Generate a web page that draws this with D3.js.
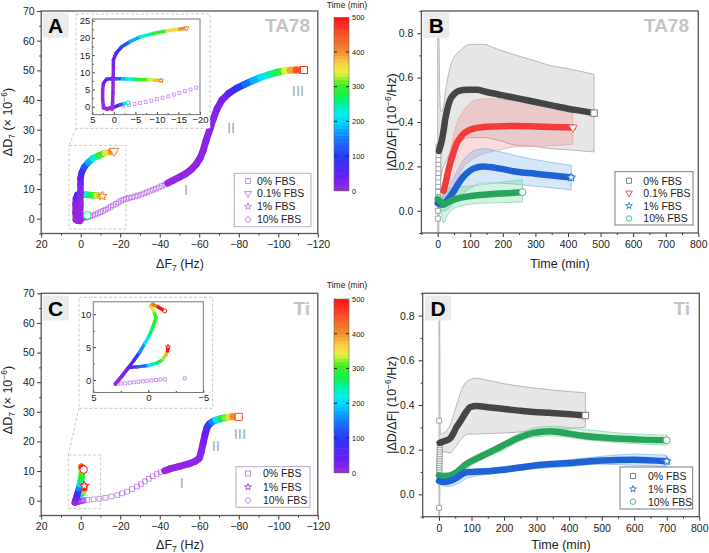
<!DOCTYPE html>
<html><head><meta charset="utf-8">
<script src="https://cdn.jsdelivr.net/npm/d3@7/dist/d3.min.js"></script>
<style>body{margin:0;background:#fff}svg{display:block}</style>
</head><body>
<script>
// ---------------- DATA ----------------
// colour map (Time, min)
const timeStops  = [0, 40, 100, 150, 190, 220, 250, 280, 310, 340, 370, 400, 440, 480, 500];
const timeColors = ["#9a28e0","#6a1cf5","#2838f8","#1478ff","#00c8ff","#00f0f0","#00f0a0","#18f040","#40f020","#e8f040","#f8d040","#f09030","#f86028","#ff2a20","#ff1010"];
const colorbarTicks = [0, 100, 200, 300, 400, 500];

// Panel A (TA78): [dF7 (Hz), dD7 (1e-6), time (min)]
const ta78_0_early = [[-2.2,0.3,0.2],[-3.5,0.5,0.3],[-4.8,0.8,0.4],[-6.1,1.1,0.5],[-7.4,1.4,0.6],[-8.7,1.8,0.7],[-10,2.2,0.8],[-11.3,2.6,0.9],[-12.6,3.0,1.0],[-13.9,3.5,1.1],[-15.2,4.0,1.2],[-16.5,4.5,1.3],[-17.8,5.0,1.4],[-19.1,5.5,1.5],[-20.4,6.0,1.6],[-21.7,6.4,1.7],[-23,6.7,1.8],[-24.5,7.0,1.9],[-26,7.2,2.0],[-27.5,7.5,2.1],[-29,7.8,2.2],[-30.5,8.1,2.3],[-32,8.5,2.4],[-33.5,8.9,2.5],[-35,9.3,2.6],[-36.5,9.7,2.7],[-38,10.1,2.8],[-39.5,10.5,2.9],[-41,11.0,3.0],[-42.5,11.5,3.1]];
const ta78_0 = [[-44,12.0,3.2],[-47,13.0,4],[-50,14.0,5],[-53,15.1,6],[-56,16.6,7],[-58.5,18.4,8],[-60.5,20.5,9],[-62,23,10],[-63.5,26.5,12],[-65.3,30,14],[-67,33.5,16],[-69,37,19],[-71.5,40,24],[-75,42.3,35],[-79,44,80],[-83,45.3,125],[-87,46.5,160],[-91,47.6,195],[-95,48.5,225],[-99,49.3,270],[-103,49.8,320],[-106,50,360],[-109,50.1,420],[-113,50.1,480]];
const ta78_01 = [[0.4,-0.8,0],[0.3,1,2],[0.2,4,5],[0.15,8.7,10],[0.1,11.5,18],[0.1,13.6,30],[-0.5,15.5,60],[-1.8,17.4,100],[-3.75,18.9,150],[-6.1,20.3,200],[-9.2,21.3,270],[-12.3,22.1,330],[-15.3,22.6,390],[-16.9,22.8,415]];
const ta78_1 = [[0.8,-0.3,0],[1.6,-0.6,1],[2.4,-0.3,2],[2.6,2,4],[2.6,5,8],[2.4,6.8,15],[1.7,8,50],[0.5,8.1,90],[-0.6,8.1,120],[-2,8.1,170],[-3,8.05,200],[-4.5,8.0,250],[-6,7.9,290],[-8,7.8,320],[-9.5,7.7,350],[-11,7.6,410]];
const ta78_10 = [[2.4,-0.3,0],[1.5,-0.7,5],[0.5,-0.4,15],[-0.5,0.1,40],[-1.5,0.6,100],[-2.5,0.9,180],[-3.35,1.16,260]];

// Panel C (Ti)
const ti_0_early = [[2.9,-0.6,0],[2.5,-0.55,0.1],[2.1,-0.5,0.2],[1.7,-0.42,0.3],[1.3,-0.35,0.4],[0.9,-0.28,0.5],[0.5,-0.2,0.6],[0.1,-0.13,0.7],[-0.3,-0.06,0.8],[-0.7,0.0,0.9],[-1.1,0.05,1.0],[-1.5,0.1,1.1],[-3.3,0.26,1.3],[-6.5,0.45,1.5],[-9.5,0.65,1.7],[-12.5,0.95,1.9],[-15.5,1.4,2.1],[-18.5,1.9,2.3],[-21,2.5,2.5],[-23.5,3.1,2.7],[-26,3.9,2.9],[-28.5,4.8,3.1],[-30.5,5.6,3.3],[-32.5,6.5,3.5],[-34.5,7.4,3.7],[-36.5,8.3,3.9],[-38.5,9.0,4.1],[-40.5,9.6,4.3]];
const ti_0 = [[-42.5,10.1,4.5],[-45,10.7,5],[-50,11.6,6],[-55,12.5,8],[-58,13.3,10],[-60,14.3,12],[-61,16.5,15],[-62,19.5,20],[-63,22.5,30],[-64,24.8,50],[-65,25.8,90],[-66.5,26.6,130],[-68.5,27.2,180],[-71,27.7,250],[-73,28,300],[-75,28.2,340],[-77,28.3,390],[-79,28.3,420],[-80,28.3,450]];
const ti_1 = [[3.0,-0.6,0],[2.4,0.6,10],[1.8,1.9,40],[1,2.0,100],[0,2.2,170],[-0.8,2.6,250],[-1.3,3.1,300],[-1.6,3.8,350],[-1.75,4.4,420],[-1.8,5,700]];
const ti_10 = [[3.0,-0.6,0],[2.4,0.6,10],[1.8,1.9,30],[1.3,3,80],[0.8,4.2,130],[0.3,5.6,190],[-0.1,6.8,240],[-0.4,8,280],[-0.7,9.5,300],[-0.5,10.5,320],[-0.2,11.3,350],[-0.4,11.5,400],[-0.9,11.1,450],[-1.5,10.5,700]];

// Panel B (TA78): |dD/dF| vs time
const b0_early = [[0.5,-0.035],[0.5,0.0],[1,0.035],[1,0.06],[1,0.085],[1.5,0.11],[1.5,0.13],[1.5,0.15],[2,0.17],[2,0.19],[2,0.21],[2.5,0.23],[2.5,0.25],[3,0.27],[3,0.29]];
const b0_mean = [[4,0.27],[8,0.29],[13,0.32],[18,0.36],[23,0.41],[30,0.46],[38,0.5],[50,0.525],[65,0.54],[90,0.545],[120,0.545],[150,0.535],[200,0.52],[250,0.505],[300,0.49],[350,0.475],[400,0.46],[450,0.448],[480,0.44]];
const b0_band = [[0,-0.1,0.87],[3,-0.1,0.86],[6,0.1,0.55],[9,0.14,0.45],[14,0.18,0.45],[25,0.22,0.55],[38,0.26,0.645],[50,0.28,0.69],[68,0.31,0.72],[100,0.33,0.75],[140,0.33,0.75],[180,0.32,0.73],[242,0.295,0.70],[300,0.29,0.675],[344,0.28,0.655],[400,0.275,0.64],[480,0.265,0.615]];
const b01_mean = [[18,0.09],[25,0.13],[30,0.165],[38,0.213],[48,0.26],[58,0.303],[70,0.33],[80,0.348],[95,0.362],[110,0.37],[140,0.377],[180,0.38],[240,0.382],[300,0.38],[350,0.378],[415,0.375]];
const b01_band = [[15,0.05,0.1],[25,0.05,0.16],[40,0.09,0.28],[58,0.14,0.39],[80,0.2,0.45],[100,0.225,0.485],[120,0.245,0.5],[160,0.265,0.505],[200,0.278,0.502],[240,0.288,0.498],[300,0.29,0.485],[340,0.292,0.475],[415,0.3,0.455]];
const b1_mean = [[0,0.035],[10,0.028],[18,0.03],[28,0.045],[38,0.064],[48,0.085],[58,0.109],[68,0.132],[79,0.154],[94,0.175],[109,0.19],[140,0.2],[191,0.19],[242,0.176],[300,0.167],[344,0.16],[410,0.15]];
const b1_band = [[0,0.01,0.06],[20,0.0,0.07],[40,0.02,0.12],[60,0.05,0.18],[80,0.08,0.23],[110,0.11,0.27],[140,0.125,0.28],[180,0.125,0.27],[250,0.118,0.245],[340,0.105,0.22],[410,0.095,0.205]];
const b10_mean = [[0,0.052],[8,0.042],[18,0.027],[28,0.035],[40,0.045],[60,0.055],[89,0.064],[130,0.071],[170,0.076],[210,0.079],[260,0.084]];
const b10_band = [[0,0.03,0.09],[10,0.0,0.1],[18,-0.055,0.1],[30,-0.02,0.103],[50,0.01,0.105],[100,0.03,0.112],[150,0.035,0.12],[200,0.037,0.13],[260,0.04,0.14]];

// Panel D (Ti)
const d0_early = [[0.5,-0.06],[0.5,0.33],[1,0.1],[1,0.11],[1,0.12],[1.5,0.13],[1.5,0.14],[1.5,0.15],[2,0.16],[2,0.17],[2,0.18],[2.5,0.19],[2.5,0.2],[2.5,0.21],[3,0.22]];
const d0_mean = [[2,0.23],[10,0.235],[20,0.24],[34,0.25],[45,0.275],[54,0.302],[65,0.325],[75,0.35],[85,0.372],[95,0.39],[116,0.395],[150,0.39],[188,0.384],[240,0.376],[290,0.369],[340,0.365],[393,0.36],[450,0.353]];
const d0_band = [[0,-0.1,0.8],[2,-0.1,0.8],[4,0.19,0.27],[20,0.19,0.28],[34,0.185,0.31],[50,0.21,0.38],[70,0.25,0.47],[90,0.27,0.51],[116,0.27,0.52],[150,0.272,0.51],[200,0.275,0.495],[300,0.285,0.475],[400,0.295,0.46],[450,0.3,0.455]];
const d1_mean = [[0,0.06],[15,0.055],[30,0.058],[50,0.07],[70,0.09],[90,0.1],[120,0.102],[160,0.105],[200,0.11],[250,0.12],[300,0.13],[400,0.14],[500,0.152],[600,0.155],[700,0.148]];
const d1_band = [[0,0.045,0.075],[30,0.035,0.07],[60,0.05,0.09],[90,0.075,0.11],[150,0.09,0.115],[200,0.1,0.125],[300,0.115,0.14],[400,0.125,0.155],[500,0.135,0.17],[600,0.13,0.18],[700,0.125,0.175]];
const d10_mean = [[0,0.085],[15,0.08],[30,0.082],[50,0.095],[85,0.137],[130,0.17],[188,0.212],[240,0.25],[290,0.275],[341,0.283],[400,0.272],[443,0.262],[546,0.25],[620,0.245],[700,0.242]];
const d10_band = [[0,0.07,0.1],[30,0.068,0.097],[60,0.085,0.12],[100,0.13,0.165],[150,0.168,0.2],[200,0.2,0.235],[250,0.24,0.275],[300,0.258,0.3],[350,0.262,0.305],[450,0.245,0.29],[550,0.232,0.275],[700,0.22,0.265]];

const legendA = ["0% FBS","0.1% FBS","1% FBS","10% FBS"];
const legendC = ["0% FBS","1% FBS","10% FBS"];

// ---------------- DRAWING ----------------
const FONT = '"Liberation Sans", Arial, Helvetica, sans-serif';
const svg = d3.select("body").append("svg").attr("width",709).attr("height",553).style("font-family",FONT);
const cmap = d3.scaleLinear().domain(timeStops).range(timeColors).interpolate(d3.interpolateRgb).clamp(true);
const defs = svg.append("defs");
let clipN = 0;
function clip(x, y){
  const id = "clip"+(clipN++);
  const [x0,x1]=x.range(), [y0,y1]=y.range();
  defs.append("clipPath").attr("id",id).append("rect")
    .attr("x",Math.min(x0,x1)).attr("y",Math.min(y0,y1)).attr("width",Math.abs(x1-x0)).attr("height",Math.abs(y1-y0));
  return "url(#"+id+")";
}
function clean(g, fs){
  g.select(".domain").remove();
  g.attr("font-family",null).attr("font-size",null);
  g.selectAll("line").attr("stroke","#333");
  g.selectAll("text").attr("fill","#222").attr("font-family",FONT).attr("font-size",fs);
}
function axes(x, y, o){
  const yb = y.range()[0], xl = x.range()[0];
  const gx1 = svg.append("g").attr("transform",`translate(0,${yb})`);
  gx1.call(d3.axisBottom(x).tickValues(o.xMinor).tickSize(o.minor).tickFormat("")); clean(gx1,o.fs);
  const gx2 = svg.append("g").attr("transform",`translate(0,${yb})`);
  gx2.call(d3.axisBottom(x).tickValues(o.xMajor).tickSize(o.major).tickPadding(o.xPad).tickFormat(o.xFmt)); clean(gx2,o.fs);
  const gy1 = svg.append("g").attr("transform",`translate(${xl},0)`);
  gy1.call(d3.axisLeft(y).tickValues(o.yMinor).tickSize(o.minor).tickFormat("")); clean(gy1,o.fs);
  const gy2 = svg.append("g").attr("transform",`translate(${xl},0)`);
  gy2.call(d3.axisLeft(y).tickValues(o.yMajor).tickSize(o.major).tickPadding(o.yPad).tickFormat(o.yFmt)); clean(gy2,o.fs);
  const [x0,x1]=x.range(), [y0,y1]=y.range();
  svg.append("rect").attr("x",x0).attr("y",y1).attr("width",x1-x0).attr("height",y0-y1)
    .attr("fill","none").attr("stroke",o.frame||"#555").attr("stroke-width",o.fw||1.3);
}
function trail(g, x, y, pts, w){
  g.append("g").selectAll("line").data(d3.pairs(pts)).join("line")
    .attr("x1",d=>x(d[0][0])).attr("y1",d=>y(d[0][1])).attr("x2",d=>x(d[1][0])).attr("y2",d=>y(d[1][1]))
    .attr("stroke",d=>cmap((d[0][2]+d[1][2])/2)).attr("stroke-width",w).attr("stroke-linecap","round");
}
const SYM = {sq:d3.symbolSquare, tri:d3.symbolTriangle, star:d3.symbolStar, circ:d3.symbolCircle};
const SCALE = {sq:1, tri:0.75, star:0.55, circ:0.9};
function sym(g, type, cx, cy, size, stroke, fill, sw){
  g.append("path").attr("d",d3.symbol().type(SYM[type]).size(size*SCALE[type])())
    .attr("transform",`translate(${cx},${cy})`+(type==="tri"?" rotate(180)":""))
    .attr("fill",fill||"none").attr("stroke",stroke).attr("stroke-width",sw||1);
}
function endMark(g, x, y, pts, type, size){
  const p = pts[pts.length-1];
  sym(g, type, x(p[0]), y(p[1]), size, cmap(p[2]), "#fff", 1);
}
function label(g, x, y, t){
  g.append("rect").attr("x",x).attr("y",y).attr("width",26).attr("height",25).attr("fill","#ebebeb");
  g.append("text").attr("x",x+13).attr("y",y+20).attr("text-anchor","middle").attr("font-weight","bold")
    .attr("font-size",21).attr("fill","#000").text(t);
}
function tag(g, x, y, t){
  g.append("text").attr("x",x).attr("y",y).attr("text-anchor","end").attr("font-weight","bold")
    .attr("font-size",19).attr("fill","#c4c4c4").text(t);
}
function xTitleF(x, y){
  const t = svg.append("text").attr("x",x).attr("y",y).attr("text-anchor","middle").attr("font-size",12.5).attr("fill","#222");
  t.append("tspan").text("ΔF");
  t.append("tspan").attr("dy",3).attr("font-size",8.5).text("7");
  t.append("tspan").attr("dy",-3).text(" (Hz)");
}
function yTitleD(x, y){
  const t = svg.append("text").attr("transform",`translate(${x},${y}) rotate(-90)`).attr("text-anchor","middle").attr("font-size",12.5).attr("fill","#222");
  t.append("tspan").text("ΔD");
  t.append("tspan").attr("dy",3).attr("font-size",8.5).text("7");
  t.append("tspan").attr("dy",-3).text(" (× 10");
  t.append("tspan").attr("dy",-5).attr("font-size",8.5).text("−6");
  t.append("tspan").attr("dy",5).text(")");
}
function yTitleR(x, y){
  const t = svg.append("text").attr("transform",`translate(${x},${y}) rotate(-90)`).attr("text-anchor","middle").attr("font-size",12.5).attr("fill","#222");
  t.append("tspan").text("|ΔD/ΔF| (10");
  t.append("tspan").attr("dy",-5).attr("font-size",8.5).text("−6");
  t.append("tspan").attr("dy",5).text("/Hz)");
}
function xTitleT(x, y){
  svg.append("text").attr("x",x).attr("y",y).attr("text-anchor","middle").attr("font-size",12.5).attr("fill","#222").text("Time (min)");
}
function colorbar(x0, yTop, yBot, titleY){
  const cy = d3.scaleLinear().domain([0,500]).range([yBot,yTop]);
  const g = svg.append("g");
  const bands = d3.range(0,500,10);
  g.selectAll("rect.b").data(bands).join("rect").attr("x",x0).attr("width",15)
    .attr("y",d=>cy(d+10)).attr("height",d=>cy(d)-cy(d+10)+0.5).attr("fill",d=>cmap(d+5));
  g.append("rect").attr("x",x0).attr("y",yTop).attr("width",15).attr("height",yBot-yTop).attr("fill","none").attr("stroke","#666").attr("stroke-width",0.6);
  const inner = colorbarTicks.filter(v=>v>0&&v<500);
  g.selectAll("line.l").data(inner).join("line").attr("x1",x0).attr("x2",x0+3).attr("y1",d=>cy(d)).attr("y2",d=>cy(d)).attr("stroke","#222").attr("stroke-width",1);
  g.selectAll("line.r").data(inner).join("line").attr("x1",x0+12).attr("x2",x0+15).attr("y1",d=>cy(d)).attr("y2",d=>cy(d)).attr("stroke","#222").attr("stroke-width",1);
  g.selectAll("text.t").data(colorbarTicks).join("text").attr("x",x0+18).attr("y",d=>cy(d)+2.8)
    .attr("font-size",7.5).attr("fill","#222").text(d=>d);
  g.append("text").attr("x",x0+13).attr("y",titleY).attr("text-anchor","middle").attr("font-size",8.5).attr("fill","#222").text("Time (min)");
}

// ---------- Panel A / C helpers ----------
function fPanel(o){
  const x = d3.scaleLinear().domain([20,-120]).range([41.2,317.8]);
  const y = d3.scaleLinear().domain([-5,70]).range([o.yb,o.yt]);
  const g = svg.append("g");
  g.append("rect").attr("x",x(o.box[0])).attr("y",y(o.box[1])).attr("width",x(o.box[2])-x(o.box[0])).attr("height",y(o.box[3])-y(o.box[1]))
    .attr("fill","none").attr("stroke","#c8c8c8").attr("stroke-dasharray","3,2");
  const dg = g.append("g").attr("clip-path",clip(x,y));
  o.sparse.forEach(p=> sym(dg,"sq",x(p[0]),y(p[1]),22,cmap(p[2]),"none",0.9));
  dg.selectAll("path").attr("stroke-opacity",0.55);
  trail(dg,x,y,o.dense,7);
  o.series.forEach(s=> trail(dg,x,y,s.pts,6.5));
  endMark(dg,x,y,o.dense,"sq",50);
  o.series.forEach(s=> endMark(dg,x,y,s.pts,s.type,50));
  o.roman.forEach(r=> g.append("text").attr("x",x(r[0])).attr("y",y(r[1])).attr("text-anchor","middle").attr("dominant-baseline","central")
     .attr("font-size",15).attr("fill","#a9a9bb").text(r[2]));
  axes(x,y,{xMajor:d3.range(20,-121,-20),xMinor:d3.range(10,-121,-20),yMajor:d3.range(0,71,10),yMinor:d3.range(-5,71,10),
            major:4,minor:2,xPad:3.5,yPad:2.5,fs:10.5,xFmt:d3.format("d"),yFmt:d3.format("d")});
  return {x,y,g};
}
function inset(o){
  const g = svg.append("g");
  g.append("rect").attr("x",o.outer[0]).attr("y",o.outer[1]).attr("width",o.outer[2]-o.outer[0]).attr("height",o.outer[3]-o.outer[1])
    .attr("fill","#fff").attr("stroke","#c8c8c8").attr("stroke-dasharray","3,2");
  g.append("line").attr("x1",o.conn[0]).attr("y1",o.conn[1]).attr("x2",o.conn[2]).attr("y2",o.conn[3])
    .attr("stroke","#c8c8c8").attr("stroke-dasharray","3,2");
  const x = d3.scaleLinear().domain(o.xd).range(o.xr);
  const y = d3.scaleLinear().domain(o.yd).range(o.yr);
  const dg = svg.append("g").attr("clip-path",clip(x,y));
  o.sparse.forEach(p=> sym(dg,"sq",x(p[0]),y(p[1]),9,cmap(p[2]),"none",0.8));
  dg.selectAll("path").attr("stroke-opacity",0.6);
  o.series.forEach(s=> trail(dg,x,y,s.pts,3.5));
  o.series.forEach(s=> endMark(dg,x,y,s.pts,s.type,14));
  axes(x,y,{xMajor:o.xMajor,xMinor:o.xMinor,yMajor:o.yMajor,yMinor:o.yMinor,major:-2.5,minor:-1.5,xPad:2,yPad:2,fs:9.5,
            xFmt:d3.format("d"),yFmt:d3.format("d"),frame:"#777",fw:1});
}
function legendBox(x0,y0,x1,y1,items,rows,sx,tx,border){
  const g = svg.append("g");
  g.append("rect").attr("x",x0).attr("y",y0).attr("width",x1-x0).attr("height",y1-y0).attr("fill","#fff").attr("stroke",border).attr("stroke-width",0.9);
  items.forEach((it,i)=>{
    sym(g,it.type,sx,rows[i],26,it.color,it.fill||"none",1);
    g.append("text").attr("x",tx).attr("y",rows[i]+3.8).attr("font-size",10.5).attr("fill","#222").text(it.label);
  });
}

// Panel A
fPanel({yb:233.5,yt:11,box:[5.9,24.7,-22.9,-3.5],sparse:ta78_0_early,dense:ta78_0,
  series:[{pts:ta78_10,type:"circ"},{pts:ta78_1,type:"star"},{pts:ta78_01,type:"tri"}],
  roman:[[-53.3,9.8,"I"],[-76.1,30.6,"II"],[-110,43.1,"III"]]});
inset({outer:[76,14,210,128.3],conn:[76,128.3,69,145.7],xd:[5,-20],xr:[92.3,200],yd:[-2.3,25.5],yr:[114.6,19],
  sparse:ta78_0_early,series:[{pts:ta78_10,type:"circ"},{pts:ta78_1,type:"star"},{pts:ta78_01,type:"tri"}],
  xMajor:[5,0,-5,-10,-15,-20],xMinor:[2.5,-2.5,-7.5,-12.5,-17.5],yMajor:[0,5,10,15,20,25],yMinor:[2.5,7.5,12.5,17.5,22.5]});
label(svg,42.7,12.7,"A"); tag(svg,310,32,"TA78");
legendBox(234.3,173.3,311,226.7,legendA.map((l,i)=>({label:l,type:["sq","tri","star","circ"][i],color:"#c48ae8"})),[181,193.5,206.5,219.5],248,257,"#a8a4c4");
xTitleF(180,267.5); yTitleD(12,122);
colorbar(334,17.3,190.7,7.5);

// Panel C
fPanel({yb:515.5,yt:293.3,box:[6.3,15.4,-10.1,-2.6],sparse:ti_0_early,dense:ti_0,
  series:[{pts:ti_1,type:"star"},{pts:ti_10,type:"circ"}],
  roman:[[-51.2,6.0,"I"],[-68.4,18.5,"II"],[-80.6,22.8,"III"]]});
inset({outer:[79,297.3,212.7,408.3],conn:[79,408.3,68.3,455],xd:[5,-5],xr:[93.3,203.3],yd:[-1.9,11.9],yr:[392.5,301.8],
  sparse:ti_0_early,series:[{pts:ti_1,type:"star"},{pts:ti_10,type:"circ"}],
  xMajor:[5,0,-5],xMinor:[2.5,-2.5],yMajor:[0,5,10],yMinor:[2.5,7.5]});
label(svg,42.7,295.5,"C"); tag(svg,310,315,"Ti");
legendBox(236,466.7,310,507.3,legendC.map((l,i)=>({label:l,type:["sq","star","circ"][i],color:["#c48ae8","#b04ad8","#c48ae8"][i]})),[473.5,487,500.5],248,263,"#a8a4c4");
xTitleF(180,549); yTitleD(12,400);
colorbar(334,299,472.7,288);

// ---------- Panel B / D ----------
function rPanel(o){
  const x = d3.scaleLinear().domain([-50,800]).range(o.xr);
  const y = d3.scaleLinear().domain([-0.1,0.9]).range(o.yr);
  const dg = svg.append("g").attr("clip-path",clip(x,y));
  const area = d3.area().x(d=>x(d[0])).y0(d=>y(d[1])).y1(d=>y(d[2])).curve(d3.curveMonotoneX);
  const line = d3.line().x(d=>x(d[0])).y(d=>y(d[1])).curve(d3.curveMonotoneX);
  o.series.forEach(s=> dg.append("path").attr("d",area(s.band)).attr("fill",s.fill).attr("fill-opacity",s.fo)
      .attr("stroke",s.edge).attr("stroke-width",0.8));
  o.early.forEach(p=> sym(dg,"sq",x(p[0]),y(p[1]),24,"#9a9a9a","#fff",0.9));
  o.series.forEach(s=> dg.append("path").attr("d",line(s.mean)).attr("fill","none").attr("stroke",s.color).attr("stroke-width",6.5).attr("stroke-linecap","round"));
  o.series.forEach(s=>{ const p=s.mean[s.mean.length-1]; sym(dg,s.type,x(p[0]),y(p[1]),42,s.mk,"#fff",1); });
  axes(x,y,{xMajor:d3.range(0,801,100),xMinor:d3.range(-50,801,100),yMajor:[0,0.2,0.4,0.6,0.8],yMinor:[-0.1,0.1,0.3,0.5,0.7,0.9],
            major:4,minor:2,xPad:3.5,yPad:4,fs:10.5,xFmt:d3.format("d"),yFmt:d3.format(".1f")});
}
const sGray  = {fill:"#b4b4b4",fo:0.32,edge:"#a8a8a8",color:"#454545",type:"sq",mk:"#7a7a7a"};
const sRed   = {fill:"#f07070",fo:0.25,edge:"#f2a8a8",color:"#f43b3b",type:"tri",mk:"#f05a5a"};
const sBlue  = {fill:"#5aa0e8",fo:0.25,edge:"#8cbcea",color:"#1e62d8",type:"star",mk:"#3a86da"};
const sGreen = {fill:"#60d090",fo:0.27,edge:"#8ed8ae",color:"#27a55c",type:"circ",mk:"#46c07e"};

rPanel({xr:[421.4,698.3],yr:[233,11],early:b0_early,series:[
  Object.assign({band:b0_band,mean:b0_mean},sGray),
  Object.assign({band:b01_band,mean:b01_mean},sRed),
  Object.assign({band:b1_band,mean:b1_mean},sBlue),
  Object.assign({band:b10_band,mean:b10_mean},sGreen)]});
label(svg,423.3,12.7,"B"); tag(svg,689,32,"TA78");
xTitleT(560,267.5); yTitleR(396,122);

rPanel({xr:[422.7,699.3],yr:[516.7,293.3],early:d0_early,series:[
  Object.assign({band:d0_band,mean:d0_mean},sGray),
  Object.assign({band:d10_band,mean:d10_mean},sGreen),
  Object.assign({band:d1_band,mean:d1_mean},sBlue)]});
label(svg,425,295.5,"D"); tag(svg,690,315,"Ti");
xTitleT(561,549); yTitleR(396,405);

legendBox(615,171.7,693,225,legendA.map((l,i)=>({label:l,type:["sq","tri","star","circ"][i],color:[sGray.mk,sRed.mk,sBlue.mk,sGreen.mk][i]})),[180.7,193,205.8,218.5],629,643.3,"#6a6a7a");
legendBox(620,467,692.7,509,legendC.map((l,i)=>({label:l,type:["sq","star","circ"][i],color:[sGray.mk,sBlue.mk,sGreen.mk][i]})),[476,489,501.7],633,648,"#6a6a7a");
</script>
</body></html>
